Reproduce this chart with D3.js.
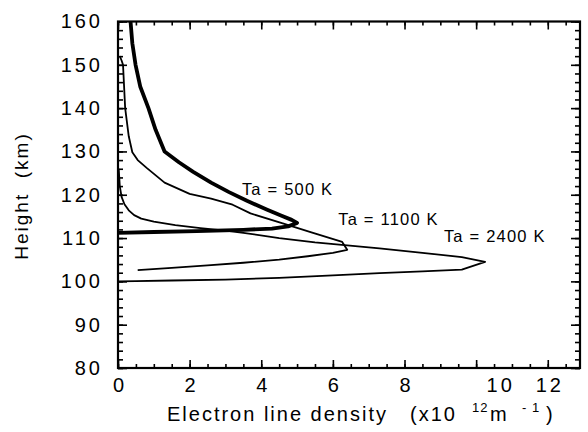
<!DOCTYPE html>
<html>
<head>
<meta charset="utf-8">
<script src="https://cdn.jsdelivr.net/npm/d3@7"></script>
<style>
  body { margin: 0; background: #fff; }
  svg { display: block; }
  text { font-family: "Liberation Sans", Arial, Helvetica, sans-serif; fill: #000; white-space: pre; }
</style>
</head>
<body>
<svg id="chart"></svg>
<script>
// electron line density (x10^12 m^-1) vs height (km)
var n500 = [0.35, 0.40, 0.49, 0.62, 0.85, 1.05, 1.30, 1.70, 2.10, 2.60, 3.10, 3.60, 4.15, 4.55, 4.85, 5.00, 4.75, 4.30, 3.50, 2.20, 1.00, 0.00];
var h500 = [160, 155, 150, 145, 140, 135, 130, 127.5, 125.3, 122.8, 120.6, 118.6, 116.6, 115.2, 114.2, 113.5, 112.7, 112.2, 111.9, 111.6, 111.4, 111.2];

var n1100 = [0.05, 0.10, 0.14, 0.20, 0.30, 0.40, 0.55, 0.80, 1.30, 2.00, 2.60, 3.20, 3.70, 4.60, 5.40, 6.26, 6.40, 6.00, 5.30, 4.50, 3.50, 2.50, 1.50, 0.55];
var h1100 = [152, 151, 150, 140, 133.5, 129.8, 128, 126.2, 122.8, 120.2, 119.1, 117.7, 115.7, 113.4, 111.3, 109.1, 107.3, 106.6, 105.8, 105.0, 104.3, 103.7, 103.1, 102.6];

var n2400 = [0.02, 0.05, 0.10, 0.18, 0.30, 0.45, 0.65, 1.00, 1.60, 2.30, 3.00, 3.50, 4.50, 5.50, 6.40, 7.30, 8.50, 9.60, 10.25, 9.60, 8.50, 7.30, 6.00, 4.50, 3.00, 1.50, 0.50, 0.00];
var h2400 = [126, 122, 119.5, 117.8, 116.4, 115.3, 114.5, 113.8, 113.0, 112.3, 111.7, 111.2, 110.0, 109.0, 108.3, 107.6, 106.6, 105.6, 104.5, 102.7, 102.3, 101.9, 101.4, 100.8, 100.4, 100.2, 100.05, 100.0];

var curveNames = ['Ta = 500 K', 'Ta = 1100 K', 'Ta = 2400 K'];
var xTicks = [0, 2, 4, 6, 8, 10, 12];
var yTicks = [80, 90, 100, 110, 120, 130, 140, 150, 160];

var width = 588, height = 432;
var margin = { top: 21.5, right: 8, bottom: 64, left: 118 };

var svg = d3.select('#chart')
    .attr('width', width)
    .attr('height', height);

var x = d3.scaleLinear()
    .domain([0, 12.9])
    .range([margin.left, width - margin.right]);

var y = d3.scaleLinear()
    .domain([80, 160])
    .range([height - margin.bottom, margin.top]);

var x0 = margin.left, x1 = width - margin.right,
    y0 = height - margin.bottom, y1 = margin.top;

// minor ticks on all four sides
var xMinor = d3.range(0, 12.9, 0.5);
var yMinor = d3.range(80, 161, 2);

function tickStyle(g) {
    g.select('.domain').remove();
    g.selectAll('line').attr('stroke', '#000').attr('stroke-width', 1.6);
}

svg.append('g').attr('transform', 'translate(0,' + y0 + ')')
    .call(d3.axisBottom(x).tickValues(xMinor).tickSize(-4).tickFormat(''))
    .call(tickStyle);
svg.append('g').attr('transform', 'translate(0,' + y1 + ')')
    .call(d3.axisTop(x).tickValues(xMinor).tickSize(-4).tickFormat(''))
    .call(tickStyle);
svg.append('g').attr('transform', 'translate(0,' + y1 + ')')
    .call(d3.axisTop(x).tickValues(xTicks).tickSize(-8).tickFormat(''))
    .call(tickStyle);
svg.append('g').attr('transform', 'translate(' + x0 + ',0)')
    .call(d3.axisLeft(y).tickValues(yMinor).tickSize(-5).tickFormat(''))
    .call(tickStyle);
svg.append('g').attr('transform', 'translate(' + x1 + ',0)')
    .call(d3.axisRight(y).tickValues(yMinor).tickSize(-5).tickFormat(''))
    .call(tickStyle);
svg.append('g').attr('transform', 'translate(' + x1 + ',0)')
    .call(d3.axisRight(y).tickValues(yTicks).tickSize(-9).tickFormat(''))
    .call(tickStyle);

// major ticks with labels
var xAxis = svg.append('g').attr('transform', 'translate(0,' + y0 + ')')
    .call(d3.axisBottom(x).tickValues(xTicks).tickSize(-8).tickPadding(10).tickFormat(d3.format('d')))
    .call(tickStyle);
xAxis.selectAll('text')
    .style('font-size', '20px')
    .style('letter-spacing', '3px')
    .attr('dx', function (d) { return d === 10 ? 24 : 1.5; });

var yAxis = svg.append('g').attr('transform', 'translate(' + x0 + ',0)')
    .call(d3.axisLeft(y).tickValues(yTicks).tickSize(-9).tickPadding(15).tickFormat(d3.format('d')))
    .call(tickStyle);
yAxis.selectAll('text')
    .style('font-size', '20px')
    .style('letter-spacing', '3px');

// frame
svg.append('rect')
    .attr('x', x0).attr('y', y1)
    .attr('width', x1 - x0).attr('height', y0 - y1)
    .attr('fill', 'none')
    .attr('stroke', '#000')
    .attr('stroke-width', 2.2);

// profiles
var line = d3.line()
    .x(function (d) { return x(d[0]); })
    .y(function (d) { return y(d[1]); });

var profiles = [
    { n: n500, h: h500, w: 3.8 },
    { n: n1100, h: h1100, w: 1.8 },
    { n: n2400, h: h2400, w: 1.8 }
];

profiles.forEach(function (p) {
    svg.append('path')
        .datum(d3.zip(p.n, p.h))
        .attr('d', line)
        .attr('fill', 'none')
        .attr('stroke', '#000')
        .attr('stroke-width', p.w)
        .attr('stroke-linejoin', 'round');
});

// curve labels
var labelPos = [[3.46, 120.0], [6.15, 113.1], [9.1, 109.2]];
svg.selectAll('.curve-label')
    .data(curveNames)
    .enter().append('text')
    .attr('class', 'curve-label')
    .attr('x', function (d, i) { return x(labelPos[i][0]); })
    .attr('y', function (d, i) { return y(labelPos[i][1]); })
    .style('font-size', '16.5px')
    .style('letter-spacing', '1.2px')
    .text(function (d) { return d; });

// axis titles
var xt = svg.append('text')
    .attr('y', 421)
    .style('font-size', '20px')
    .style('letter-spacing', '2px');
xt.append('tspan').attr('x', 167).text('Electron line density');
xt.append('tspan').attr('x', 410).text('(x10');
xt.append('tspan').attr('x', 472).attr('dy', -9).style('font-size', '13px').style('letter-spacing', '1px').text('12');
xt.append('tspan').attr('x', 490).attr('dy', 9).text('m');
xt.append('tspan').attr('x', 522).attr('dy', -9).style('font-size', '13px').style('letter-spacing', '1px').text('- 1');
xt.append('tspan').attr('x', 546).attr('dy', 9).text(')');

svg.append('text')
    .attr('transform', 'translate(28,' + 196 + ') rotate(-90)')
    .attr('text-anchor', 'middle')
    .style('font-size', '19px')
    .style('letter-spacing', '2px')
    .text('Height  (km)');
</script>
</body>
</html>
